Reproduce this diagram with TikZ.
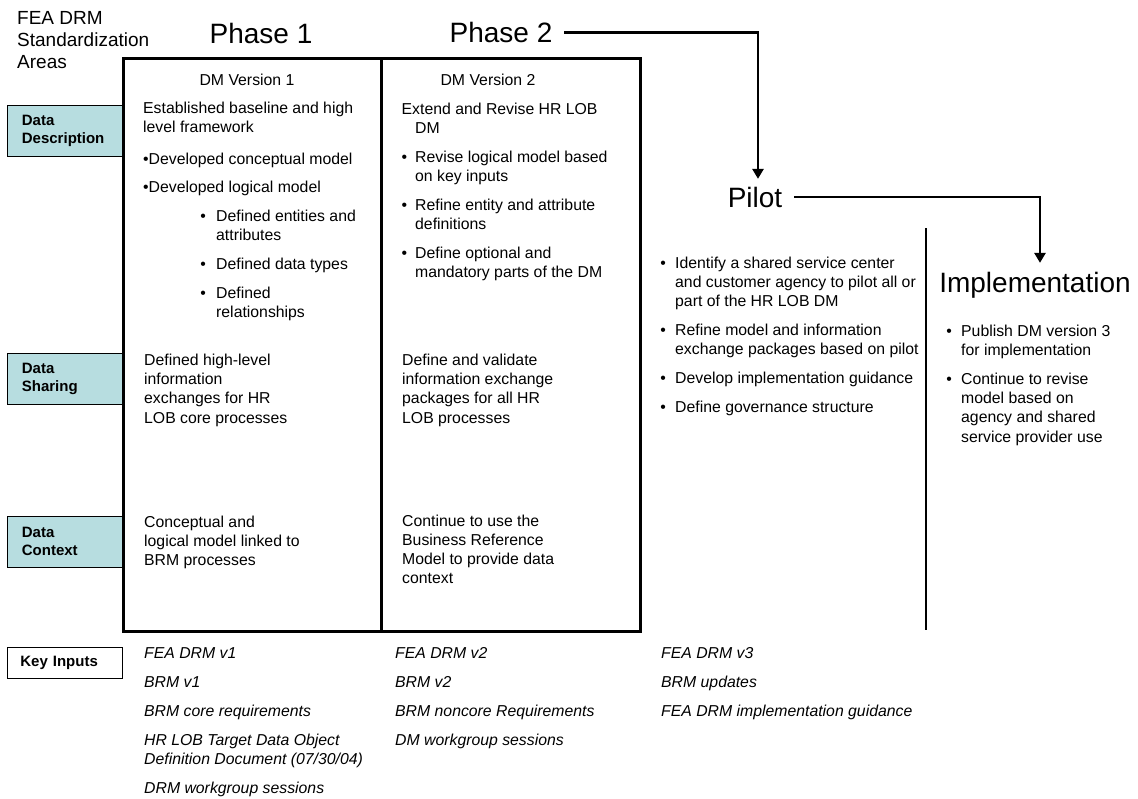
\documentclass[tikz,border=0pt]{standalone}
\usepackage{fontspec}
\setmainfont{Liberation Sans}
\usetikzlibrary{arrows.meta}
\definecolor{labelfill}{RGB}{183,221,224}
\newcommand{\txtl}[1]{\begin{tabular}[t]{@{}l@{}}#1\end{tabular}}
\newcommand{\txtb}[1]{\begin{tabular}[t]{@{}l@{}l@{}}#1\end{tabular}}
\newcommand{\bu}[1]{\makebox[#1][l]{•}}
\tikzset{
 body/.style={font=\fontsize{15.8}{19.2}\selectfont, inner sep=0pt, anchor=base west},
 hdr/.style={font=\fontsize{15.8}{19.2}\selectfont, inner sep=0pt, anchor=base},
 bigtitle/.style={font=\fontsize{28}{32}\selectfont, anchor=base},
 areabox/.style={draw, line width=0.8pt, fill=labelfill, minimum width=115pt, minimum height=50.5pt, text width=86pt, inner xsep=14.5pt, inner ysep=0pt, align=left, anchor=north west, font=\fontsize{15}{18}\selectfont\bfseries},
 keybox/.style={draw, line width=0.8pt, minimum width=115pt, minimum height=31pt, text width=89pt, inner xsep=13pt, inner ysep=0pt, align=left, anchor=north west, font=\fontsize{15}{18}\selectfont\bfseries},
 phasebox/.style={draw, line width=2.8pt, inner sep=0pt, anchor=north west, minimum height=573pt},
 flow/.style={line width=2.5pt, -{Triangle[width=11pt,length=10pt]}},
 keyin/.style={font=\fontsize{15.8}{18.8}\selectfont\itshape, inner sep=0pt, anchor=base west},
}
\begin{document}
\begin{tikzpicture}[x=1pt,y=-1pt]
\useasboundingbox (0,0) rectangle (1138,798);

% header
\node[font=\fontsize{19}{22}\selectfont, inner sep=0pt, anchor=base west] (fea) at (17,24)
  {\txtl{FEA DRM\\Standardization\\Areas}};
\node[bigtitle] (ph1) at (261,43) {Phase 1};
\node[bigtitle] (ph2) at (501,42.5) {Phase 2};
\node[bigtitle] (pilot) at (755,207) {Pilot};
\node[bigtitle] (impl) at (1035,292) {Implementation};

% area labels
\node[areabox] (dd) at (7,105) {Data\\Description};
\node[areabox] (ds) at (7,353) {Data\\Sharing};
\node[areabox] (dc) at (7,516) {Data\\Context};
\node[keybox] (ki) at (7,647) {Key Inputs};

% phase boxes
\node[phasebox, minimum width=258pt] (p1box) at (122,57) {};
\node[phasebox, minimum width=259pt] (p2box) at (380,57) {};

% phase 1 content
\node[hdr] (dm1) at (247,85.5) {DM Version 1};
\node[body] (p1desc) at (143,113.5) {\txtl{Established baseline and high\\level framework\\[12.5pt]•Developed conceptual model\\[9pt]•Developed logical model}};
\node[body] (p1sub) at (200.2,221.5) {\txtb{\bu{15.8pt}&Defined entities and\\&attributes\\[9.6pt]\bu{15.8pt}&Defined data types\\[9.6pt]\bu{15.8pt}&Defined\\&relationships}};
\node[body] (p1share) at (144,365.5) {\txtl{Defined high-level\\information\\exchanges for HR\\LOB core processes}};
\node[body] (p1ctx) at (144,527.2) {\txtl{Conceptual and\\logical model linked to\\BRM processes}};

% phase 2 content
\node[hdr] (dm2) at (488,85.5) {DM Version 2};
\node[body] (p2desc) at (401.5,114.5) {\txtb{\multicolumn{2}{@{}l@{}}{Extend and Revise HR LOB}\\&DM\\[9.5pt]\bu{13.5pt}&Revise logical model based\\&on key inputs\\[9.5pt]\bu{13.5pt}&Refine entity and attribute\\&definitions\\[9.5pt]\bu{13.5pt}&Define optional and\\&mandatory parts of the DM}};
\node[body] (p2share) at (402,365.5) {\txtl{Define and validate\\information exchange\\packages for all HR\\LOB processes}};
\node[body] (p2ctx) at (402,526.2) {\txtl{Continue to use the\\Business Reference\\Model to provide data\\context}};

% pilot content
\node[body] (pilottxt) at (660.2,268.5) {\txtb{\bu{14.8pt}&Identify a shared service center\\&and customer agency to pilot all or\\&part of the HR LOB DM\\[9.6pt]\bu{14.8pt}&Refine model and information\\&exchange packages based on pilot\\[9.6pt]\bu{14.8pt}&Develop implementation guidance\\[9.6pt]\bu{14.8pt}&Define governance structure}};

% implementation content
\node[body] (impltxt) at (946.2,336.5) {\txtb{\bu{14.8pt}&Publish DM version 3\\&for implementation\\[9.6pt]\bu{14.8pt}&Continue to revise\\&model based on\\&agency and shared\\&service provider use}};

% divider
\coordinate (dtop) at (926,228);
\coordinate (dbot) at (926,630);
\draw[line width=1.5pt] (dtop) -- (dbot);

% key inputs
\node[keyin] (k1) at (144,658.5) {\txtl{FEA DRM v1\\[10.2pt]BRM v1\\[10.2pt]BRM core requirements\\[10.2pt]HR LOB Target Data Object\\Definition Document (07/30/04)\\[10.2pt]DRM workgroup sessions}};
\node[keyin] (k2) at (395,658.5) {\txtl{FEA DRM v2\\[10.2pt]BRM v2\\[10.2pt]BRM noncore Requirements\\[10.2pt]DM workgroup sessions}};
\node[keyin] (k3) at (661,658.5) {\txtl{FEA DRM v3\\[10.2pt]BRM updates\\[10.2pt]FEA DRM implementation guidance}};

% flow arrows
\draw[flow, shorten <=8.5pt, shorten >=4.3pt] (ph2.east) -| ([xshift=3pt]pilot.north);
\draw[flow, shorten <=8.7pt, shorten >=5.3pt] (pilot.east) -| ([xshift=5pt]impl.north);
\end{tikzpicture}
\end{document}
